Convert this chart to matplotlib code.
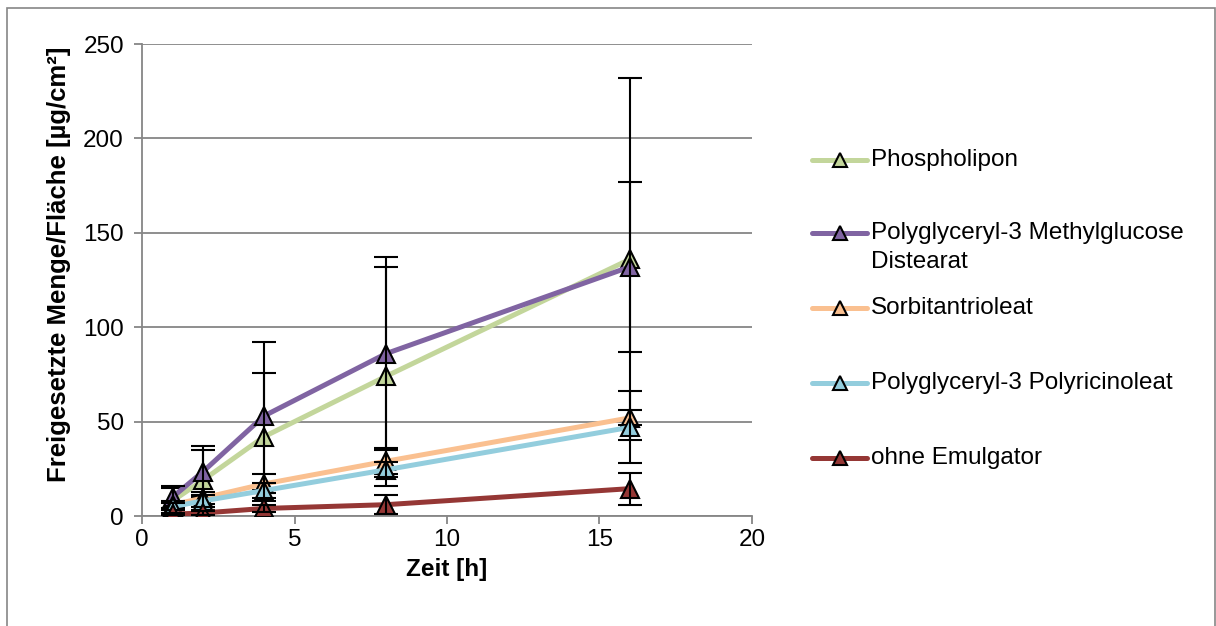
import matplotlib.pyplot as plt
import matplotlib.patches as mpatches
from matplotlib.lines import Line2D

plt.rcParams['font.family'] = ['Liberation Sans', 'DejaVu Sans']

# Zeitpunkte [h]
zeit = [1, 2, 4, 8, 16]

# Freigesetzte Menge/Fläche [µg/cm²] und Standardabweichungen
phospholipon = [8, 19, 42, 74, 136]
phospholipon_sd = [7, 16, 34, 58, 96]
methylglucose = [10, 23.5, 53, 86, 132]
methylglucose_sd = [6, 13.5, 39, 51, 45]
sorbitan = [6, 9.5, 17, 29, 52]
sorbitan_sd = [2, 3, 5, 7, 4]
polyricinoleat = [5, 8, 13.5, 24.5, 47]
polyricinoleat_sd = [2, 3, 4, 4, 19]
ohne = [1, 1.6, 4, 6, 14.5]
ohne_sd = [0.5, 1, 2, 5, 8.5]

labels = ["Phospholipon", "Polyglyceryl-3 Methylglucose\nDistearat",
          "Sorbitantrioleat", "Polyglyceryl-3 Polyricinoleat", "ohne Emulgator"]
colors = ["#C3D69B", "#8064A2", "#FAC090", "#93CDDD", "#953735"]
series = [(phospholipon, phospholipon_sd), (methylglucose, methylglucose_sd),
          (sorbitan, sorbitan_sd), (polyricinoleat, polyricinoleat_sd),
          (ohne, ohne_sd)]

W, H = 1216, 626
fig = plt.figure(figsize=(W / 100, H / 100), dpi=100)
ax = fig.add_axes([0.1168, 0.1757, 0.5016, 0.754])

for i, ((vals, sd), color) in enumerate(zip(series, colors)):
    ax.plot(zeit, vals, color=color, lw=3.6, marker="^", markersize=12.5,
            markerfacecolor=color, markeredgecolor="black",
            markeredgewidth=1.5, zorder=3 + i)
    ax.errorbar(zeit, vals, yerr=sd, fmt="none", ecolor="black", elinewidth=1.5,
                capsize=8.5, capthick=1.5, zorder=3 + i)

ax.set_xlim(0, 20)
ax.set_ylim(0, 250)
ax.set_xticks([0, 5, 10, 15, 20])
ax.set_yticks([0, 50, 100, 150, 200, 250])
ax.yaxis.grid(True, color="#868686", lw=1.3)
ax.set_axisbelow(True)
for s in ["top", "right"]:
    ax.spines[s].set_visible(False)
for s in ["left", "bottom"]:
    ax.spines[s].set_color("#868686")
    ax.spines[s].set_linewidth(1.3)
ax.tick_params(axis="both", colors="#868686", labelcolor="black", labelsize=17.5,
               length=6, width=1.3, direction="out")
ax.tick_params(axis="y", pad=7)
ax.set_xlabel("Zeit [h]", fontsize=17.5, fontweight="bold", labelpad=5)
ax.set_ylabel("Freigesetzte Menge/Fläche [µg/cm²]", fontsize=18.5,
              fontweight="bold")
ax.yaxis.set_label_coords(-0.117, 0.533)

# Legende (Excel-Stil, Symbol an der ersten Textzeile)
legend_rows = [160, 233, 308, 383, 458]
for label, color, row in zip(labels, colors, legend_rows):
    y = 1 - row / H
    fig.add_artist(Line2D([812 / W, 867 / W], [y, y], transform=fig.transFigure,
                          color=color, lw=3.6, solid_capstyle="round"))
    fig.add_artist(Line2D([840 / W], [y], transform=fig.transFigure, marker="^",
                          markersize=9.5, markerfacecolor=color,
                          markeredgecolor="black", markeredgewidth=1.5))
    for k, part in enumerate(label.split("\n")):
        fig.text(871 / W, 1 - (row + 29 * k) / H, part, fontsize=17.5,
                 va="center", ha="left")

fig.patches.append(mpatches.Rectangle((7 / W, -0.01), 1208 / W, 1.01 - 8 / H,
                                      transform=fig.transFigure, fill=False,
                                      edgecolor="#868686", lw=1.2))

fig.savefig("out.png", dpi=100)
